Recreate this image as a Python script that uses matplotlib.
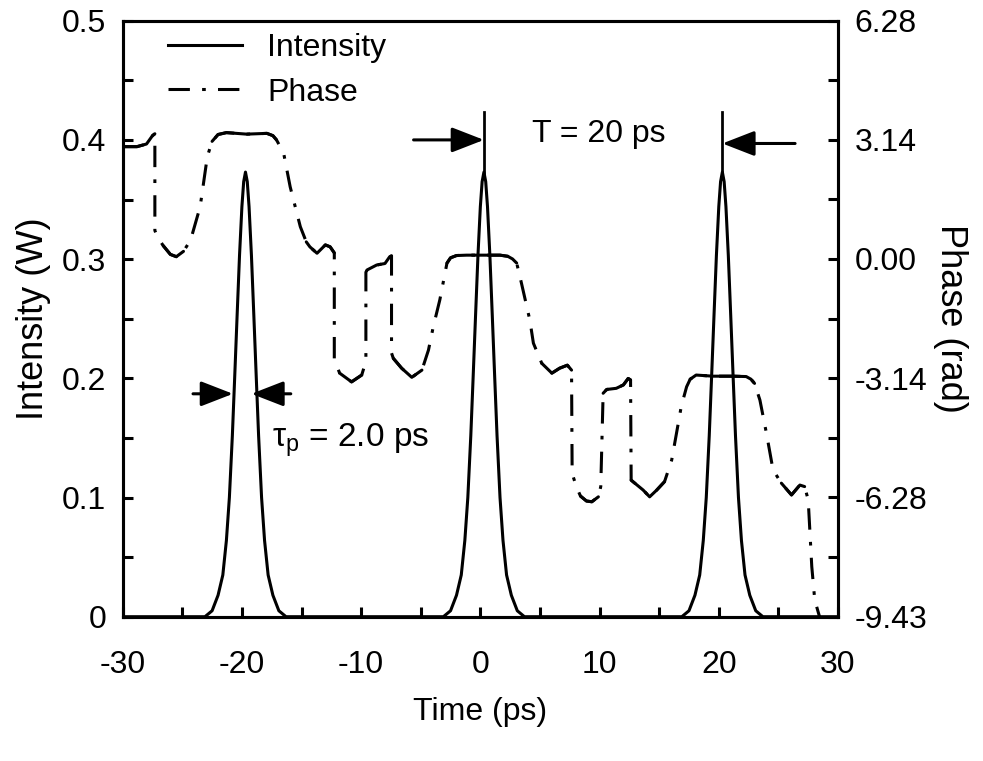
import numpy as np
import matplotlib
matplotlib.use("Agg")
import matplotlib.pyplot as plt
from matplotlib.lines import Line2D

plt.rcParams['font.family'] = ['Liberation Sans', 'DejaVu Sans']
plt.rcParams['mathtext.fontset'] = 'custom'
plt.rcParams['mathtext.rm'] = 'Liberation Sans'
plt.rcParams['mathtext.it'] = 'Liberation Sans'

# pulse shape (offset from pulse centre, ps) and intensity (W)
pulse_offset = [-3.4, -2.8, -2.3, -1.9, -1.6, -1.35, -1.1, -0.9, -0.7, -0.5, -0.3, -0.15, 0.0,
                0.15, 0.3, 0.5, 0.7, 0.9, 1.1, 1.35, 1.6, 1.9, 2.3, 2.8, 3.4]
pulse_power = [0.0, 0.005, 0.018, 0.035, 0.064, 0.100, 0.152, 0.202, 0.253, 0.303, 0.344, 0.365, 0.373,
               0.365, 0.344, 0.303, 0.253, 0.202, 0.152, 0.100, 0.064, 0.035, 0.018, 0.005, 0.0]
pulse_centers = [-19.7, 0.3, 20.3]

# phase (rad) vs time (ps)
phase_t = [-30.0, -28.8, -28.0, -27.5, -27.3, -27.3, -27.1, -26.6, -26.0, -25.5, -24.9, -24.3, -23.5,
           -22.9, -22.5, -22.0, -21.3, -19.6, -17.9, -17.4, -17.1, -16.5, -15.95, -15.1, -14.6, -14.3,
           -13.7, -13.0, -12.6, -12.25, -12.25, -11.8, -10.8, -9.95, -9.6, -9.6, -9.5, -8.7, -8.0, -7.6,
           -7.45, -7.45, -7.3, -6.6, -5.75, -4.9, -4.35, -3.95, -3.4, -2.8, -2.5, -2.0, -1.15, 1.65,
           2.3, 2.7, 3.05, 3.45, 4.15, 4.45, 5.15, 6.0, 6.65, 7.3, 7.65, 7.7, 8.05, 8.4, 8.9, 9.35,
           9.9, 10.1, 10.3, 10.6, 11.4, 12.0, 12.4, 12.6, 12.65, 12.8, 13.65, 14.2, 14.8, 15.45, 16.05,
           16.45, 16.85, 17.3, 17.6, 18.1, 19.5, 21.2, 22.3, 22.7, 23.0, 23.45, 24.0, 24.55, 25.25,
           26.1, 26.8, 27.2, 27.5, 27.65, 27.8, 28.05, 28.45]
phase_rad = [2.96, 2.96, 3.03, 3.25, 3.30, 0.75, 0.59, 0.35, 0.12, 0.06, 0.20, 0.50, 1.38,
             2.70, 3.10, 3.28, 3.33, 3.29, 3.31, 3.25, 3.14, 2.79, 1.90, 0.85, 0.45, 0.32,
             0.15, 0.37, 0.32, 0.16, -2.66, -3.01, -3.24, -3.06, -2.70, -0.35, -0.29, -0.16, -0.12, 0.06,
             0.08, -2.48, -2.62, -2.88, -3.12, -2.93, -2.40, -1.79, -1.08, -0.11, 0.03, 0.09, 0.10, 0.10,
             0.07, 0.0, -0.11, -0.64, -1.61, -2.22, -2.75, -3.01, -2.88, -2.80, -2.93, -5.65, -6.00, -6.25, -6.38, -6.40,
             -6.27, -6.00, -3.54, -3.44, -3.41, -3.32, -3.15, -3.19, -5.83, -5.87, -6.09, -6.27, -6.09, -5.87, -5.30,
             -4.60, -3.89, -3.37, -3.17, -3.06, -3.09, -3.09, -3.10, -3.17, -3.28, -3.72, -4.60, -5.56, -5.91,
             -6.22, -5.96, -6.00, -6.35, -7.23, -8.11, -8.99, -9.43]

x_ticks = [-30, -20, -10, 0, 10, 20, 30]
y_ticks = [0, 0.1, 0.2, 0.3, 0.4, 0.5]
y_ticklabels = ['0', '0.1', '0.2', '0.3', '0.4', '0.5']
phase_ticks = [-9.43, -6.28, -3.14, 0.0, 3.14, 6.28]
phase_ticklabels = ['-9.43', '-6.28', '-3.14', '0.00', '3.14', '6.28']

FS = 23
LW = 2.2

fig = plt.figure(figsize=(9.83, 7.61), dpi=100)
ax = fig.add_axes([0.1248, 0.1896, 0.7277, 0.7832])
ax2 = ax.twinx()

# intensity: three pulses
t_all, p_all = [-30.0], [0.0]
for c in pulse_centers:
    t_all += [c + o for o in pulse_offset]
    p_all += pulse_power
t_all.append(30.0)
p_all.append(0.0)
ax.plot(t_all, p_all, color='k', lw=LW, solid_joinstyle='round')

ax.set_xlim(-30, 30)
ax.set_ylim(0, 0.5)
ax2.set_ylim(-9.43, 6.28)

# phase, dash-dot on steep parts, solid on the flat parts (as in the original plotter)
dash = (0, (7, 4, 1.2, 4))
ax2.plot(phase_t, phase_rad, color='k', lw=LW, linestyle=dash)
pts = ax2.transData.transform(np.column_stack([phase_t, phase_rad]))
d = np.diff(pts, axis=0)
flat = np.abs(d[:, 1]) < 1.5 * np.abs(d[:, 0])
i = 0
n = len(flat)
while i < n:
    if flat[i]:
        j = i
        while j < n and flat[j]:
            j += 1
        ax2.plot(phase_t[i:j + 1], phase_rad[i:j + 1], color='k', lw=LW,
                 solid_capstyle='round', solid_joinstyle='round')
        i = j
    else:
        i += 1

# pulse markers for the period
for xc in [pulse_centers[1], pulse_centers[2]]:
    ax.plot([xc, xc], [0.37, 0.423], color='k', lw=LW * 0.9)

arw = dict(arrowstyle='-|>,head_length=0.9,head_width=0.35', color='k', lw=LW,
           shrinkA=0, shrinkB=0, mutation_scale=22)
ax.annotate('', xy=(pulse_centers[1], 0.400), xytext=(-5.6, 0.400), arrowprops=arw)
ax.annotate('', xy=(pulse_centers[2], 0.397), xytext=(26.4, 0.397), arrowprops=arw)
ax.annotate('', xy=(-20.75, 0.187), xytext=(-24.1, 0.187), arrowprops=arw)
ax.annotate('', xy=(-19.2, 0.187), xytext=(-15.9, 0.187), arrowprops=arw)

ax.text(4.3, 0.398, 'T = 20 ps', fontsize=FS, ha='left', va='baseline')
ax.text(-17.45, 0.143, r'$\mathrm{\tau_p}$ = 2.0 ps', fontsize=FS + 1, ha='left', va='baseline')

# axes styling
ax.set_xticks(x_ticks)
ax.set_xticklabels([str(v) for v in x_ticks])
ax.set_xticks(np.arange(-25, 30, 10), minor=True)
ax.set_yticks(y_ticks)
ax.set_yticklabels(y_ticklabels)
ax.set_yticks(np.arange(0.05, 0.5, 0.1), minor=True)
ax2.set_yticks(phase_ticks)
ax2.set_yticklabels(phase_ticklabels)
ax2.set_yticks([-7.85, -4.71, -1.57, 1.57, 4.71], minor=True)

for a in (ax, ax2):
    for s in a.spines.values():
        s.set_linewidth(LW)
ax.tick_params(axis='both', which='both', direction='in', width=LW, length=7,
               labelsize=FS, top=False, right=False)
ax.tick_params(axis='x', which='both', pad=24)
ax.tick_params(axis='y', which='both', pad=12)
ax2.tick_params(axis='y', which='both', direction='in', width=LW, length=7,
                labelsize=FS, pad=12)

ax.set_xlabel('Time (ps)', fontsize=FS, labelpad=12)
ax.set_ylabel('Intensity (W)', fontsize=FS + 3, labelpad=8)
ax2.set_ylabel('Phase (rad)', fontsize=FS + 3, rotation=-90, labelpad=4, va='bottom')

handles = [Line2D([], [], color='k', lw=LW),
           Line2D([], [], color='k', lw=LW, linestyle=dash)]
ax2.legend(handles, ['Intensity', 'Phase'], loc='upper left', frameon=False, fontsize=FS,
           handlelength=2.3, handletextpad=0.8, labelspacing=0.45,
           bbox_to_anchor=(0.05, 0.995), borderaxespad=0.1, borderpad=0.2)

fig.savefig('out.png', dpi=100)
